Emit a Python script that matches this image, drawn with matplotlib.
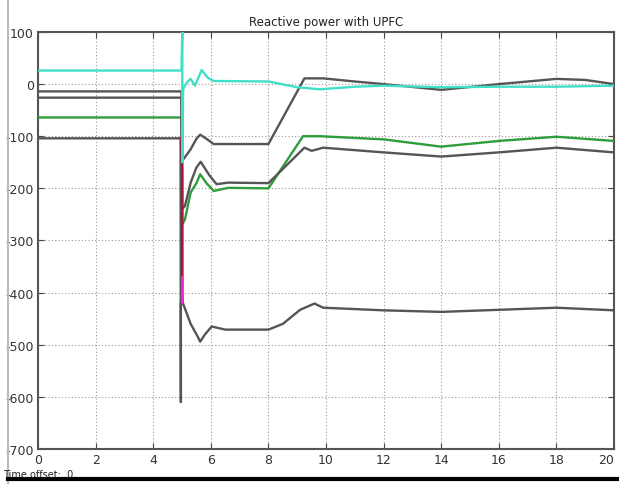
import matplotlib
matplotlib.use("Agg")
import matplotlib.pyplot as plt
from matplotlib.lines import Line2D

# ---- data ----
cyan_t = [0, 4.98, 5.01, 5.01, 5.04, 5.1, 5.2, 5.3, 5.45, 5.68, 5.9, 6.1, 8.0, 9.0, 9.8, 11.0, 12.0, 14.0, 16.0, 18.0, 20.0]
cyan_v = [26, 26, 100, -150, -10, -3, 5, 10, -3, 27, 12, 6, 5, -6, -10, -5, -3, -6, -5, -5, -3]

red_t = [4.98, 5.01, 5.01]
red_v = [-104, -160, -420]

mag_t = [5.01, 5.01, 5.03]
mag_v = [-370, -420, -405]

top_t = [0, 4.98, 5.0, 5.05, 5.3, 5.5, 5.63, 5.85, 6.1, 6.5, 8.0, 9.25, 9.9, 11.0, 12.0, 14.0, 16.0, 18.0, 19.0, 20.0]
top_v = [-14, -14, -150, -144, -125, -105, -97, -105, -115, -115, -115, 11, 11, 5, 0, -11, 0, 10, 8, 0]

mid_t = [0, 4.98, 5.0, 5.1, 5.3, 5.5, 5.65, 5.95, 6.2, 6.6, 8.0, 9.25, 9.5, 9.9, 12.0, 14.0, 16.0, 18.0, 20.0]
mid_v = [-26, -26, -240, -234, -189, -160, -149, -175, -192, -189, -190, -122, -128, -122, -131, -139, -131, -122, -131]

green_t = [0, 4.98, 5.0, 5.1, 5.3, 5.5, 5.63, 5.85, 6.1, 6.6, 8.0, 9.2, 9.8, 12.0, 14.0, 16.0, 18.0, 20.0]
green_v = [-64, -64, -270, -260, -208, -190, -173, -190, -205, -199, -200, -100, -100, -106, -120, -109, -101, -109]

bot_t = [0, 4.95, 4.96, 4.96, 5.03, 5.3, 5.55, 5.63, 5.8, 6.03, 6.5, 8.0, 8.5, 9.1, 9.6, 9.9, 12.0, 14.0, 16.0, 18.0, 20.0]
bot_v = [-104, -104, -610, -420, -420, -460, -485, -494, -480, -465, -471, -471, -460, -433, -421, -429, -434, -437, -433, -429, -434]

x_ticks = [0, 2, 4, 6, 8, 10, 12, 14, 16, 18, 20]
y_ticks = [100, 0, -100, -200, -300, -400, -500, -600, -700]
title = "Reactive power with UPFC"

fig = plt.figure(figsize=(6.19, 4.85), dpi=100)
ax = fig.add_axes([0.0614, 0.0722, 0.9306, 0.8598])

grey = "#555555"
ax.plot(green_t, green_v, color="#2e9e3a", lw=1.7, zorder=4)
ax.plot(mid_t, mid_v, color=grey, lw=1.7, zorder=5)
ax.plot(top_t, top_v, color=grey, lw=1.7, zorder=5)
ax.plot(bot_t, bot_v, color=grey, lw=1.7, zorder=5)
ax.plot(red_t, red_v, color="#b0123a", lw=1.9, zorder=6)
ax.plot(cyan_t, cyan_v, color="#40e0c8", lw=1.7, zorder=7)
ax.plot(mag_t, mag_v, color="#ff22cc", lw=1.7, zorder=8)

ax.set_xlim(0, 20)
ax.set_ylim(-700, 100)
ax.set_xticks(x_ticks)
ax.set_yticks(y_ticks)
ax.set_xticklabels([str(v) for v in x_ticks], fontsize=9, color="#333333")
ax.set_yticklabels([str(v) for v in y_ticks], fontsize=9, color="#333333")
ax.get_xticklabels()[-1].set_horizontalalignment("right")
ax.tick_params(direction="in", length=4, color="#444444", top=True, right=True, pad=3)
ax.grid(True, linestyle=(0, (1, 2)), color="#999999", lw=0.8)
for s in ax.spines.values():
    s.set_color("#555555")
    s.set_linewidth(1.5)
ax.set_title(title, fontsize=8.5, color="#222222", pad=5)

# window decoration
fig.add_artist(Line2D([0.013, 0.013], [0.0, 1.0], color="#bbbbbb", lw=1.5))
fig.add_artist(Line2D([0.013, 1.0], [0.01, 0.01], color="black", lw=3))
fig.text(0.005, 0.014, "Time offset:  0", fontsize=7, color="#222222")

fig.savefig("out.png", dpi=100, facecolor="white")
